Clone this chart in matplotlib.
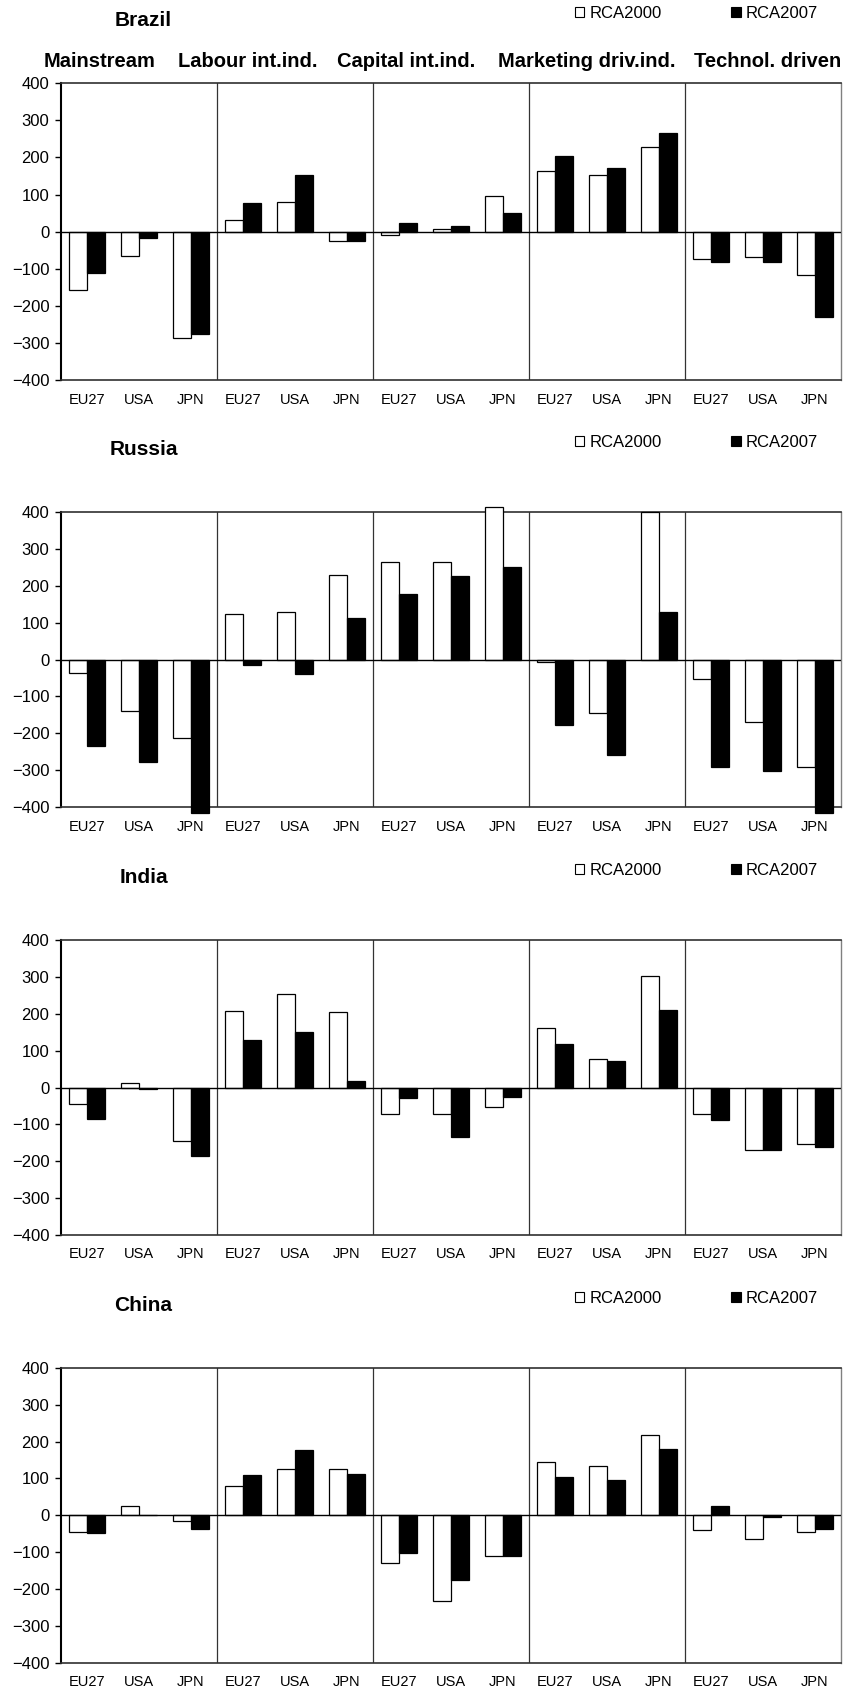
import matplotlib
matplotlib.use("Agg")
import matplotlib.pyplot as plt
import numpy as np
from matplotlib.patches import Patch

plt.rcParams["font.family"] = ["Liberation Sans", "DejaVu Sans"]

# Partner regions, repeated inside each industry group
regions = ["EU27", "USA", "JPN"]
groups = ["Mainstream", "Labour int.ind.", "Capital int.ind.",
          "Marketing driv.ind.", "Technol. driven"]
countries = ["Brazil", "Russia", "India", "China"]
series_names = ["RCA2000", "RCA2007"]

# RCA values, ordered group by group (EU27, USA, JPN)
brazil_2000 = [-157, -65, -286, 32, 80, -25, -9, 7, 96, 164, 153, 228, -73, -69, -118]
brazil_2007 = [-111, -18, -277, 77, 153, -25, 24, 16, 49, 204, 172, 265, -83, -83, -231]
russia_2000 = [-37, -140, -213, 122, 129, 229, 265, 265, 412, -8, -145, 400, -52, -169, -290]
russia_2007 = [-233, -278, -415, -14, -38, 113, 178, 226, 250, -178, -258, 129, -290, -302, -415]
india_2000 = [-45, 12, -145, 208, 254, 205, -73, -73, -52, 161, 77, 302, -73, -169, -153]
india_2007 = [-85, -5, -187, 129, 150, 18, -29, -133, -25, 117, 73, 209, -89, -170, -162]
china_2000 = [-45, 24, -16, 80, 125, 125, -128, -233, -109, 145, 133, 217, -41, -65, -45]
china_2007 = [-49, 1, -38, 110, 178, 113, -102, -175, -111, 105, 97, 181, 25, -4, -37]

data = {
    "Brazil": (brazil_2000, brazil_2007),
    "Russia": (russia_2000, russia_2007),
    "India": (india_2000, india_2007),
    "China": (china_2000, china_2007),
}

W, H = 844, 1695
fig = plt.figure(figsize=(W / 100, H / 100), dpi=100)

# pixel frame of each panel: (top, bottom)
frames = [(83.3, 380.0), (511.7, 807.3), (940.0, 1235.0), (1367.7, 1663.0)]
left_px, right_px = 61, 841

heading_px = [100, 248, 406, 587, 768]
PX = 0.72  # points per pixel at 100 dpi

n = len(groups) * len(regions)
x = np.arange(n)
bw = 0.35
labels = regions * len(groups)

for country, (top, bot) in zip(countries, frames):
    ax = fig.add_axes([left_px / W, 1 - bot / H,
                       (right_px - left_px) / W, (bot - top) / H])
    v00, v07 = data[country]
    ax.bar(x - bw / 2, v00, bw, color="white", edgecolor="black",
           linewidth=0.9, clip_on=False, zorder=3)
    ax.bar(x + bw / 2, v07, bw, color="black", edgecolor="black",
           linewidth=0.9, clip_on=False, zorder=3)

    ax.set_xlim(-0.5, n - 0.5)
    ax.set_ylim(-400, 400)
    ax.set_yticks(np.arange(-400, 401, 100))
    ax.set_xticks(x)
    ax.set_xticklabels(labels)
    ax.tick_params(axis="x", length=0, pad=9, labelsize=10.5)
    ax.tick_params(axis="y", length=4.3, width=1, pad=4, labelsize=12)

    ax.axhline(0, color="black", lw=1.0, zorder=4)
    for b in range(1, len(groups)):
        ax.axvline(b * len(regions) - 0.5, color="#333333", lw=0.9, zorder=2)

    ax.spines["left"].set_linewidth(1.5)
    ax.spines["left"].set_color("black")
    for s in ("top", "bottom"):
        ax.spines[s].set_color("#303030")
        ax.spines[s].set_linewidth(1.2)
    ax.spines["right"].set_color("#808080")
    ax.spines["right"].set_linewidth(1.0)

    h = bot - top
    ax.annotate(country, xy=((143.5 - left_px) / (right_px - left_px), 1),
                xycoords="axes fraction", xytext=(0, 62.5 * PX),
                textcoords="offset points", ha="center", va="center",
                fontsize=15, fontweight="bold")

    handles = [Patch(facecolor="white", edgecolor="black", linewidth=0.8),
               Patch(facecolor="black", edgecolor="black", linewidth=0.8)]
    ax.legend(handles, series_names, ncol=2, frameon=False, fontsize=12,
              loc="center left",
              bbox_to_anchor=((575 - left_px) / (right_px - left_px), 1 + 69.5 / h),
              borderpad=0, borderaxespad=0, handlelength=0.55, handleheight=0.55,
              handletextpad=0.3, columnspacing=4.2)

    if country == countries[0]:
        for g, px in zip(groups, heading_px):
            ax.annotate(g, xy=((px - left_px) / (right_px - left_px), 1),
                        xycoords="axes fraction", xytext=(0, 21.5 * PX),
                        textcoords="offset points", ha="center", va="center",
                        fontsize=14.5, fontweight="bold")

fig.savefig("out.png", dpi=100, facecolor="white")
